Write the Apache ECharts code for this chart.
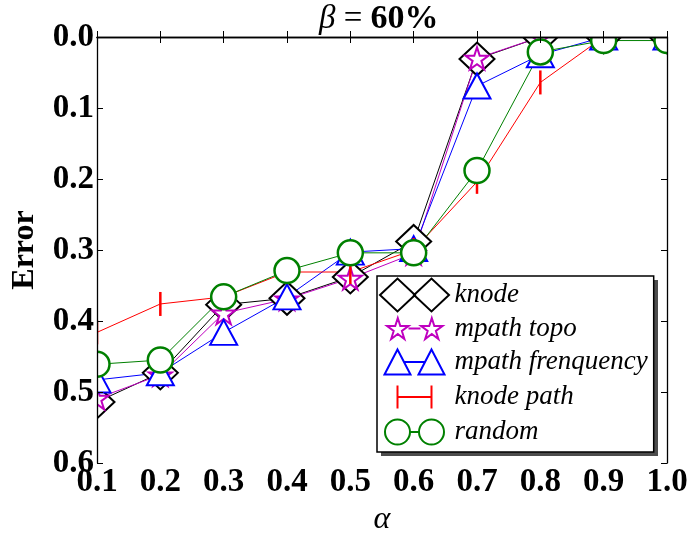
<!DOCTYPE html>
<html>
<head>
<meta charset="utf-8">
<script src="https://cdn.jsdelivr.net/npm/echarts@6/dist/echarts.min.js"></script>
<style>html,body{margin:0;padding:0;background:#fff}#c{width:693px;height:533px}</style>
</head>
<body>
<div id="c"></div>
<script>
// ---- data ----
const alphas = [0.1, 0.2, 0.3, 0.4, 0.5, 0.6, 0.7, 0.8, 0.9, 1.0];
const knode = [0.514, 0.473, 0.377, 0.368, 0.338, 0.288, 0.031, 0.0, 0.0, 0.0];
const mpathTopo = [0.509, 0.476, 0.389, 0.369, 0.340, 0.305, 0.030, 0.0, 0.0, 0.0];
const mpathFreq = [0.483, 0.473, 0.416, 0.366, 0.303, 0.298, 0.069, 0.025, 0.0, 0.0];
const knodePath = [0.416, 0.376, 0.366, 0.331, 0.331, 0.300, 0.204, 0.064, 0.0, 0.0];
const randomSel = [0.461, 0.455, 0.366, 0.329, 0.304, 0.304, 0.188, 0.021, 0.005, 0.005];
const seriesNames = ['knode', 'mpath topo', 'mpath frenquency', 'knode path', 'random'];
const yTicks = [0.0, 0.1, 0.2, 0.3, 0.4, 0.5, 0.6];

// ---- styling ----
const SERIF = '"Liberation Serif", "DejaVu Serif", serif';
const STAR = 'path://M50 0 L61.23 34.55 L97.55 34.55 L68.17 55.9 L79.39 90.45 L50 69.1 L20.61 90.45 L31.83 55.9 L2.45 34.55 L38.77 34.55 Z';
const BOX = 'M0 0 M70 34 ';
function starAt(cx, cy, w, h) {
  const pts = [[50,0],[61.23,34.55],[97.55,34.55],[68.17,55.9],[79.39,90.45],[50,69.1],[20.61,90.45],[31.83,55.9],[2.45,34.55],[38.77,34.55]];
  return pts.map((p, i) => (i ? 'L' : 'M') + (cx - w / 2 + p[0] / 97.55 * w).toFixed(2) + ' ' + (cy - h / 2 + p[1] / 90.45 * h).toFixed(2)).join(' ') + ' Z ';
}
const legendIcons = [
  'path://' + BOX + 'M0.5 17 L18 0.5 L35.5 17 L18 33.5 Z M34.5 17 L52 0.5 L69.5 17 L52 33.5 Z',
  'path://' + BOX + starAt(18, 17, 22, 21) + starAt(52, 17, 22, 21) + 'M29 17 L41 17',
  'path://' + BOX + 'M18 4.5 L31 29.5 L5 29.5 Z M52 4.5 L65 29.5 L39 29.5 Z M24.5 17 L45.5 17',
  'path://' + BOX + 'M18 5.5 L18 28.5 M52 5.5 L52 28.5 M18 17 L52 17',
  'path://' + BOX + 'M30.5 17 A12.5 12.5 0 1 1 5.5 17 A12.5 12.5 0 1 1 30.5 17 Z M64.5 17 A12.5 12.5 0 1 1 39.5 17 A12.5 12.5 0 1 1 64.5 17 Z M30.5 17 L39.5 17'
];
const colors = ['#000000', '#bf00bf', '#0000ff', '#ff0000', '#008000'];
const legendFill = ['#fff', '#fff', '#fff', 'none', '#fff'];

const GL = 97, GR = 26, GT = 37, GB = 70, W = 693, H = 533;
const LEG = {x: 377, y: 276, w: 277, h: 176};

function mk(vals) { return alphas.map((a, i) => [a, vals[i]]); }

const chart = echarts.init(document.getElementById('c'), null, {renderer: 'canvas'});
const axisCommon = {
  type: 'value', min: 0.1, max: 1.0, interval: 0.1, z: 10,
  axisLine: {show: true, lineStyle: {color: '#000', width: 1.3}},
  axisTick: {show: true, inside: true, length: 6, lineStyle: {color: '#000', width: 1}},
  splitLine: {show: false}
};
const yCommon = {
  type: 'value', min: 0, max: 0.6, interval: 0.1, inverse: true, z: 10,
  axisLine: {show: true, lineStyle: {color: '#000', width: 1.3}},
  axisTick: {show: true, inside: true, length: 6, lineStyle: {color: '#000', width: 1}},
  splitLine: {show: false}
};
const option = {
  animation: false,
  backgroundColor: '#fff',
  title: {
    text: '{i|β} = {b|60%}',
    left: 314, top: -3, z: 20,
    textStyle: {
      fontFamily: SERIF, fontSize: 33, fontWeight: 'normal', color: '#000',
      rich: {
        i: {fontFamily: SERIF, fontStyle: 'italic', fontSize: 33, color: '#000'},
        b: {fontFamily: SERIF, fontWeight: 'bold', fontSize: 34, color: '#000'}
      }
    }
  },
  grid: {left: GL, right: GR, top: GT, bottom: GB, show: false, containLabel: false, outerBoundsMode: 'none'},
  xAxis: [
    Object.assign({}, axisCommon, {
      position: 'bottom',
      name: 'α', nameLocation: 'middle', nameGap: 36,
      nameTextStyle: {fontFamily: SERIF, fontStyle: 'italic', fontSize: 32, color: '#000'},
      axisLabel: {show: true, margin: 3, color: '#000', fontFamily: SERIF, fontWeight: 'bold', fontSize: 33,
        formatter: v => v.toFixed(1)}
    }),
    Object.assign({}, axisCommon, {position: 'top', axisLabel: {show: false}})
  ],
  yAxis: [
    Object.assign({}, yCommon, {
      position: 'left',
      name: 'Error', nameLocation: 'middle', nameGap: 56, nameRotate: 90,
      nameTextStyle: {fontFamily: SERIF, fontWeight: 'bold', fontSize: 32, color: '#000'},
      axisLabel: {show: true, margin: 3, color: '#000', fontFamily: SERIF, fontWeight: 'bold', fontSize: 33,
        formatter: v => v.toFixed(1)}
    }),
    Object.assign({}, yCommon, {position: 'right', axisLabel: {show: false}})
  ],
  legend: {
    orient: 'vertical', left: LEG.x, top: LEG.y, z: 20,
    padding: [1, 6, 2, 0], itemGap: -2.5, itemWidth: 70, itemHeight: 34,
    selectedMode: false,
    backgroundColor: '#fff', borderColor: '#000', borderWidth: 1.5, borderRadius: 0,
    textStyle: {fontFamily: SERIF, fontStyle: 'italic', fontSize: 27, color: '#000'},
    data: seriesNames.map((n, i) => ({
      name: n, icon: legendIcons[i],
      itemStyle: {color: legendFill[i], borderColor: colors[i], borderWidth: 2}
    }))
  },
  graphic: [
    {type: 'rect', z: 5, silent: true, shape: {x: 0, y: 0, width: W, height: GT}, style: {fill: '#fff'}},
    {type: 'rect', z: 5, silent: true, shape: {x: 0, y: 0, width: GL, height: H}, style: {fill: '#fff'}},
    {type: 'rect', z: 5, silent: true, shape: {x: W - GR, y: 0, width: GR, height: H}, style: {fill: '#fff'}},
    {type: 'rect', z: 5, silent: true, shape: {x: 0, y: H - GB, width: W, height: GB}, style: {fill: '#fff'}},
    {type: 'rect', z: 15, silent: true, shape: {x: LEG.x + 4, y: LEG.y + 4, width: LEG.w, height: LEG.h}, style: {fill: '#4d4d4d'}}
  ],
  series: [
    {name: seriesNames[0], type: 'line', data: mk(knode), clip: false, symbol: 'diamond', symbolSize: [35, 33],
      itemStyle: {color: '#fff', borderColor: colors[0], borderWidth: 2}, lineStyle: {color: colors[0], width: 1}},
    {name: seriesNames[1], type: 'line', data: mk(mpathTopo), clip: false, symbol: STAR, symbolSize: [23, 22],
      itemStyle: {color: '#fff', borderColor: colors[1], borderWidth: 2}, lineStyle: {color: colors[1], width: 1}},
    {name: seriesNames[2], type: 'line', data: mk(mpathFreq), clip: false, symbol: 'triangle', symbolSize: [27, 25],
      itemStyle: {color: '#fff', borderColor: colors[2], borderWidth: 2}, lineStyle: {color: colors[2], width: 1}},
    {name: seriesNames[3], type: 'line', data: mk(knodePath), clip: false, symbol: 'rect', symbolSize: [2.5, 24],
      itemStyle: {color: colors[3], borderWidth: 0}, lineStyle: {color: colors[3], width: 1}},
    {name: seriesNames[4], type: 'line', data: mk(randomSel), clip: false, symbol: 'circle', symbolSize: 25,
      itemStyle: {color: '#fff', borderColor: colors[4], borderWidth: 2.5}, lineStyle: {color: colors[4], width: 1}}
  ]
};
chart.setOption(option);
</script>
</body>
</html>
